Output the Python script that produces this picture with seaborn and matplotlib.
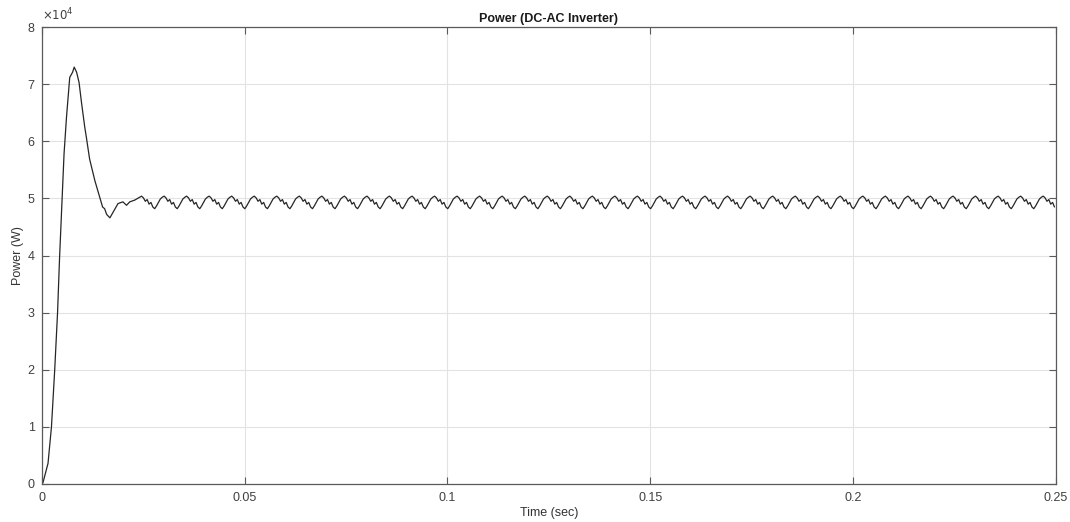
import numpy as np
import pandas as pd
import matplotlib
matplotlib.use("Agg")
import matplotlib.pyplot as plt
from matplotlib.ticker import FuncFormatter, MultipleLocator
import seaborn as sns

# start-up transient (time in s, power in W)
t_start = [0.0, 0.0003, 0.00155, 0.0024, 0.0032, 0.0039, 0.0044, 0.0050, 0.0055,
           0.0061, 0.0069, 0.0076, 0.0080, 0.0086, 0.0092, 0.0098, 0.0106, 0.0110,
           0.0118, 0.0131, 0.0143, 0.0150, 0.0155, 0.0160, 0.0168, 0.0176, 0.0188,
           0.0200, 0.0209, 0.0217, 0.0229]
p_start = [0, 200, 3600, 10000, 20000, 30000, 39700, 49600, 57800,
           64200, 71200, 72100, 73000, 72100, 70300, 66800, 62500, 60700,
           56900, 53100, 50200, 48500, 48200, 47200, 46600, 47600, 49100,
           49400, 48800, 49400, 49700]

# one ripple cycle in steady state (starts at a crest)
ripple_cycle = [50400, 50100, 49500, 49800, 49000, 49300, 48500, 48200, 48700, 49300, 49900, 50200]
ripple_t0 = 0.0246          # first crest after the transient
ripple_period = 1 / 180     # 180 Hz ripple
t_end = 0.25

n_cyc = int(np.ceil((t_end - ripple_t0) / ripple_period)) + 1
t_ss = ripple_t0 + np.arange(n_cyc * len(ripple_cycle)) * ripple_period / len(ripple_cycle)
p_ss = np.tile(ripple_cycle, n_cyc)
keep = t_ss <= t_end
df = pd.DataFrame({
    "t": np.concatenate([t_start, t_ss[keep]]),
    "p": np.concatenate([p_start, p_ss[keep]]),
})

sns.set_theme(style="whitegrid")
plt.rcParams["font.family"] = ["Liberation Sans", "DejaVu Sans"]

fig = plt.figure(figsize=(10.7, 5.22), dpi=100)
ax = fig.add_axes([0.039, 0.073, 0.948, 0.875])

sns.lineplot(data=df, x="t", y="p", ax=ax, color="#262626", linewidth=0.9)

ax.set_xlim(0, 0.25)
ax.set_ylim(0, 80000)
ax.xaxis.set_major_locator(MultipleLocator(0.05))
ax.yaxis.set_major_locator(MultipleLocator(10000))
ax.xaxis.set_major_formatter(FuncFormatter(lambda v, _: "%g" % round(v, 4)))
ax.yaxis.set_major_formatter(FuncFormatter(lambda v, _: "%g" % (v / 1e4)))

ax.grid(True, color="#e3e3e3", linewidth=0.8)
for s in ax.spines.values():
    s.set_visible(True)
    s.set_color("#5a5a5a")
    s.set_linewidth(0.9)

ax.tick_params(axis="both", direction="in", length=5, width=0.8, color="#5a5a5a",
               labelsize=9, labelcolor="#404040", top=True, right=True,
               left=True, bottom=True)
ax.tick_params(axis="x", pad=6)
ax.tick_params(axis="y", pad=5)

ax.set_xlabel("Time (sec)", fontsize=9, color="#333333", labelpad=2)
ax.set_ylabel("Power (W)", fontsize=9, color="#333333", labelpad=3)
ax.set_title("Power (DC-AC Inverter)", fontsize=9, fontweight="bold", color="#1a1a1a", pad=4)
ax.text(0.0, 1.008, r"$\times10^{4}$", transform=ax.transAxes, fontsize=8.5,
        color="#404040", ha="left", va="bottom")

fig.savefig("out.png", dpi=100)
